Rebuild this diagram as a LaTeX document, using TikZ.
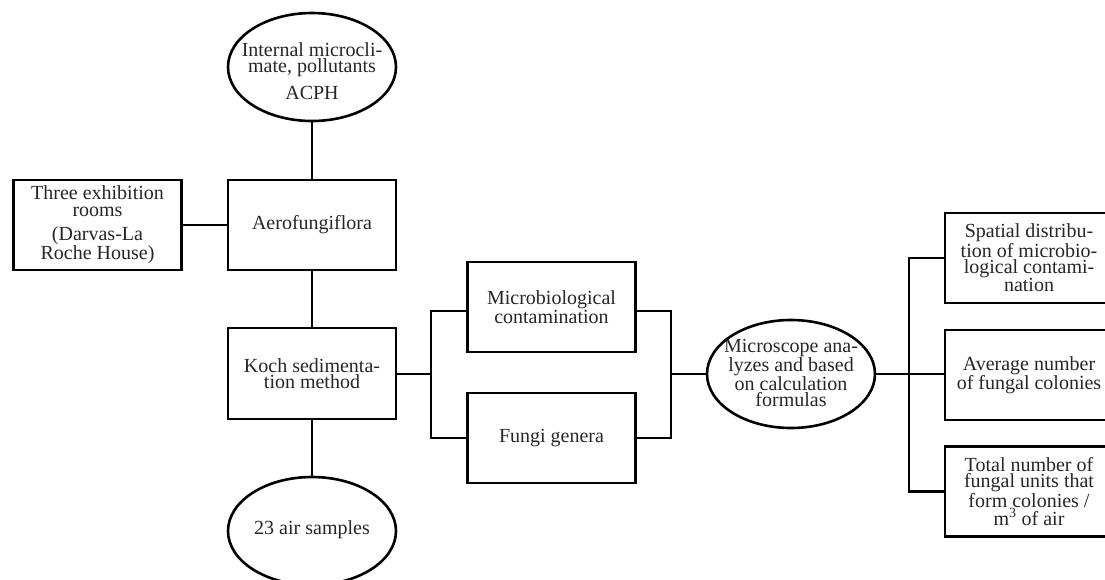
\documentclass[tikz,border=0pt]{standalone}
\usepackage{fontspec}
\setmainfont{Liberation Serif}
\usetikzlibrary{shapes.geometric}
\begin{document}
\begin{tikzpicture}[x=1pt,y=-1pt,
  line width=2.6pt,
  txt/.style={font=\fontsize{20}{16.3}\selectfont, align=center, inner sep=0pt, text=black!85},
  rbox/.style={draw, rectangle, minimum width=168pt, minimum height=90pt, inner sep=0pt, font=\fontsize{20}{16.3}\selectfont, align=center, text=black!85},
  ell/.style={draw, ellipse, minimum width=168pt, minimum height=108pt, inner sep=0pt}]
\useasboundingbox (0,0) rectangle (1105,579);

% ellipses
\node[ell] (clim) at (312,67) {};
\node[txt] (climt) at (312,71) {Internal microcli-\\mate, pollutants\\[8pt]ACPH};
\node[ell] (air) at (312,531) {};
\node[txt] (airt) at (312,530) {23 air samples};
\node[ell] (mic) at (791,374) {};
\node[txt] (mict) at (791,373) {Microscope ana-\\lyzes and based\\on calculation\\formulas};

% boxes
\node[rbox] (three) at (97.5,225) {Three exhibition\\rooms\\[8pt](Darvas-La\\Roche House)};
\node[rbox] (aero) at (312,225) {Aerofungiflora};
\node[rbox, minimum height=91pt] (koch) at (312,373.5) {Koch sedimenta-\\tion method};
\node[rbox] (micro) at (551.5,307) {Microbiological\\contamination};
\node[rbox] (fungi) at (551.5,438) {Fungi genera};
\node[rbox] (sp) at (1029,258) {Spatial distribu-\\tion of microbio-\\logical contami-\\nation};
\node[rbox] (avg) at (1029,375) {Average number\\of fungal colonies};
\node[rbox] (tot) at (1029,491.5) {Total number of\\fungal units that\\form colonies /\\m\textsuperscript{3} of air};

% branch points
\coordinate (bL) at (431,374);
\coordinate (bR) at (671,374);
\coordinate (bR2) at (909,374);

% connectors
\draw (clim) -- (aero);
\draw (three) -- (aero);
\draw (aero) -- (koch);
\draw (koch) -- (air);
\draw (koch.east |- bL) -- (bL);
\draw ([yshift=-4pt]micro.west) -| (bL) |- (fungi.west);
\draw ([yshift=-4pt]micro.east) -| (bR) |- (fungi.east);
\draw (bR) -- (mic.west);
\draw (mic.east) -- (mic.east -| avg.west);
\draw (sp.west) -| (bR2) |- (tot.west);
\end{tikzpicture}
\end{document}
